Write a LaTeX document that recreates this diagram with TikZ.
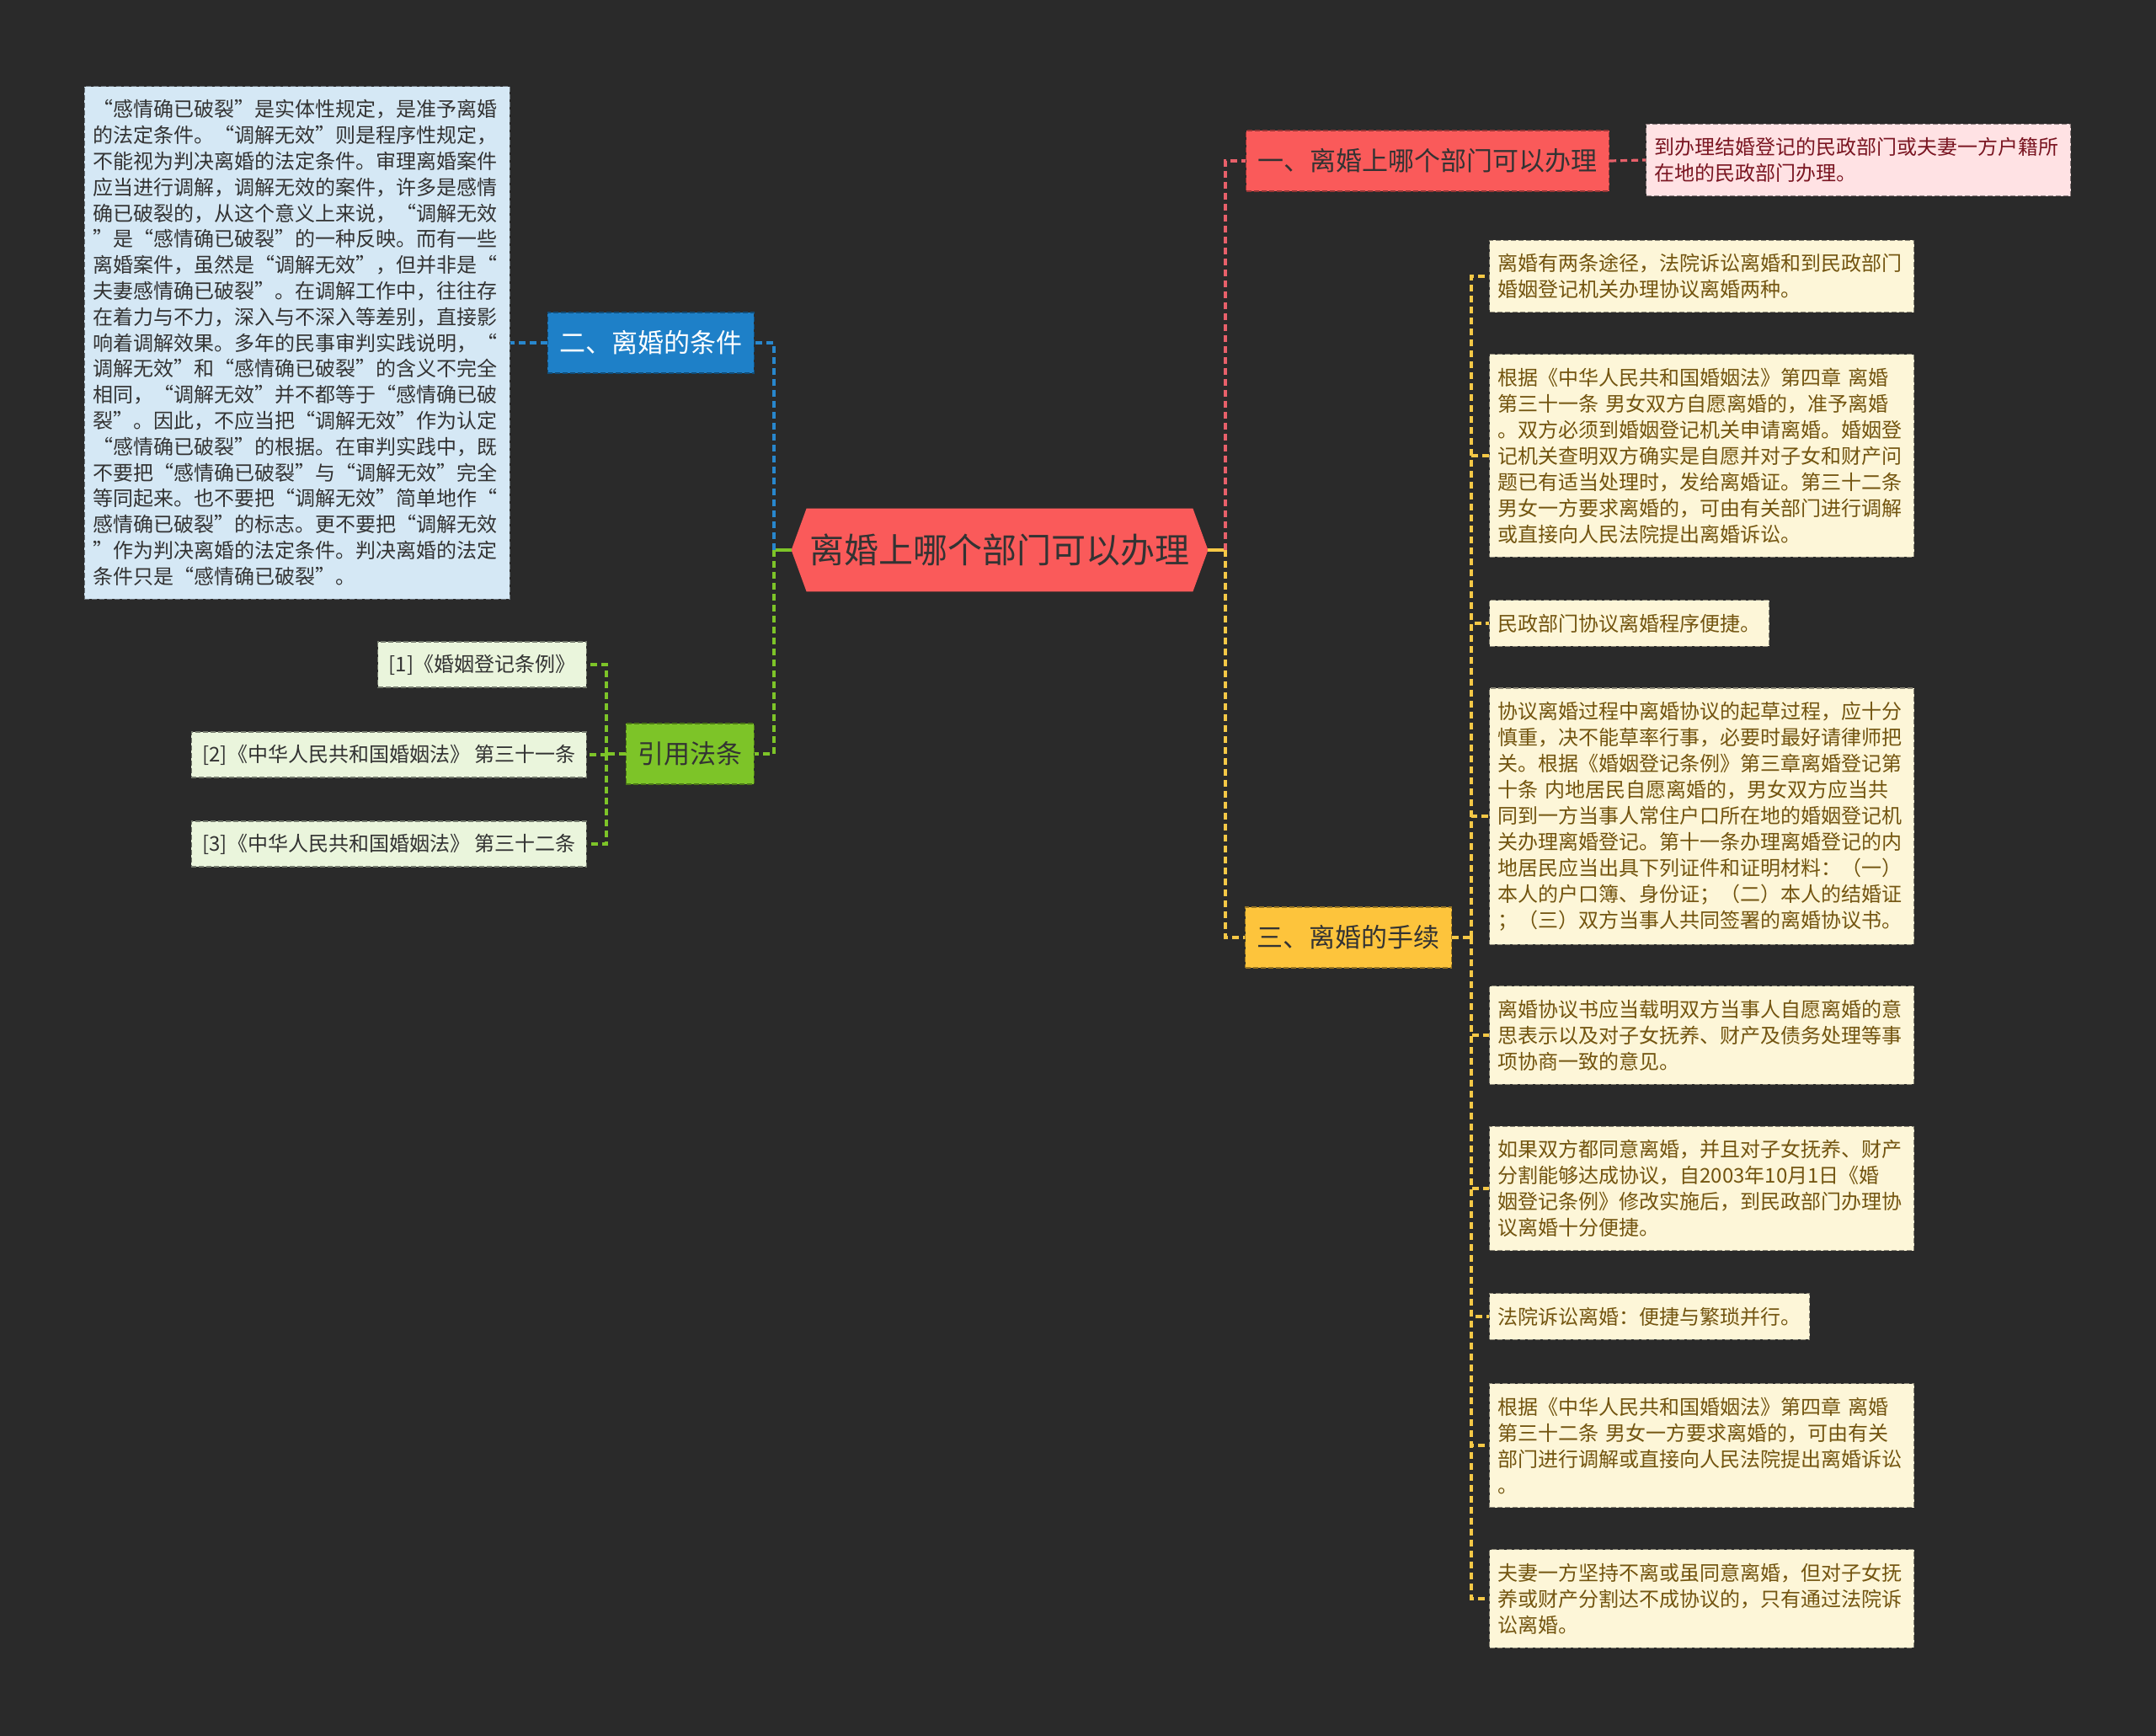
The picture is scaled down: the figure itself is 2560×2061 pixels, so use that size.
\documentclass[tikz,border=0pt]{standalone}
\usepackage{fontspec}
\setmainfont{Noto Sans CJK SC}
\usepackage{tikz}
\usetikzlibrary{backgrounds}
\definecolor{bgdark}{HTML}{2A2A2A}
\definecolor{rootfill}{HTML}{FA5A5A}
\definecolor{redfill}{HTML}{FA5A5A}
\definecolor{pinkfill}{HTML}{FFE2E4}
\definecolor{pinktext}{HTML}{7A1622}
\definecolor{bluefill}{HTML}{1E80C8}
\definecolor{paleblue}{HTML}{D5E8F5}
\definecolor{greenfill}{HTML}{7DC428}
\definecolor{palegreen}{HTML}{EAF5DC}
\definecolor{yellowfill}{HTML}{FDC43C}
\definecolor{cream}{HTML}{FDF6D8}
\definecolor{creamtext}{HTML}{735510}
\definecolor{darktext}{HTML}{333333}
\definecolor{rline}{HTML}{E8606A}
\definecolor{bline}{HTML}{2887CD}
\definecolor{gline}{HTML}{7DC428}
\definecolor{yline}{HTML}{F5C846}
\tikzset{every node/.append style={execute at begin node={\hyphenpenalty=10000\exhyphenpenalty=10000}}}

\begin{document}
\begin{tikzpicture}[x=0.5pt,y=-0.5pt,
  box/.style={dash pattern=on 3pt off 1.5pt,line width=0.6pt},
  branch/.style={box,minimum height=36pt,inner xsep=7pt,inner ysep=0pt,font=\fontsize{15.5pt}{18pt}\selectfont},
  note/.style={box,align=left,text width=242pt,inner xsep=5pt,inner ysep=8pt,fill=cream,draw=cream!55!black,text=creamtext,font=\fontsize{12pt}{15.5pt}\selectfont},
  ref/.style={box,minimum height=27pt,inner xsep=6.5pt,inner ysep=0pt,fill=palegreen,draw=palegreen!50!black,text=darktext,font=\fontsize{12pt}{15.5pt}\selectfont},
  link/.style={line width=1.6pt,dash pattern=on 4pt off 2.5pt},
  stub/.style={line width=1.6pt}]
\useasboundingbox (0,0) rectangle (2560,2061);
\node[minimum width=247pt,minimum height=49pt,inner sep=0pt,text=darktext,font=\fontsize{20.5pt}{24pt}\selectfont] (root) at (1187,653) {离婚上哪个部门可以办理};
\begin{scope}[on background layer]
\fill[bgdark] (0,0) rectangle (2560,2061);
\fill[rootfill] (root.west) -- ([xshift=9pt]root.north west) -- ([xshift=-9pt]root.north east) -- (root.east) -- ([xshift=-9pt]root.south east) -- ([xshift=9pt]root.south west) -- cycle;
\end{scope}
\node[branch,anchor=west,fill=redfill,draw=redfill!60!black,text=darktext] (way) at (1479,191) {一、离婚上哪个部门可以办理};
\node[note,anchor=west,fill=pinkfill,draw=pinkfill!55!black,text=pinktext] (wayN) at (1954,190) {到办理结婚登记的民政部门或夫妻一方户籍所\\在地的民政部门办理。};
\node[branch,anchor=east,fill=bluefill,draw=bluefill!60!black,text=white] (cond) at (896,407) {二、离婚的条件};
\node[note,anchor=east,inner xsep=5.25pt,fill=paleblue,draw=paleblue!50!black,text=darktext,font=\fontsize{12pt}{15.4pt}\selectfont] (condN) at (606,407) {“感情确已破裂”是实体性规定，是准予离婚\\的法定条件。“调解无效”则是程序性规定，\\不能视为判决离婚的法定条件。审理离婚案件\\应当进行调解，调解无效的案件，许多是感情\\确已破裂的，从这个意义上来说，“调解无效\\”是“感情确已破裂”的一种反映。而有一些\\离婚案件，虽然是“调解无效”，但并非是“\\夫妻感情确已破裂”。在调解工作中，往往存\\在着力与不力，深入与不深入等差别，直接影\\响着调解效果。多年的民事审判实践说明，“\\调解无效”和“感情确已破裂”的含义不完全\\相同，“调解无效”并不都等于“感情确已破\\裂”。因此，不应当把“调解无效”作为认定\\“感情确已破裂”的根据。在审判实践中，既\\不要把“感情确已破裂”与“调解无效”完全\\等同起来。也不要把“调解无效”简单地作“\\感情确已破裂”的标志。更不要把“调解无效\\”作为判决离婚的法定条件。判决离婚的法定\\条件只是“感情确已破裂”。};
\node[branch,anchor=east,fill=greenfill,draw=greenfill!60!black,text=darktext] (law) at (896,895) {引用法条};
\node[ref,anchor=east] (law1) at (697,789) {[1]《婚姻登记条例》};
\node[ref,anchor=east] (law2) at (697,896) {[2]《中华人民共和国婚姻法》 第三十一条};
\node[ref,anchor=east] (law3) at (697,1002) {[3]《中华人民共和国婚姻法》 第三十二条};
\node[branch,anchor=west,fill=yellowfill,draw=yellowfill!60!black,text=darktext] (proc) at (1478,1113) {三、离婚的手续};
\node[note,anchor=west] (proc1) at (1768,328) {离婚有两条途径，法院诉讼离婚和到民政部门\\婚姻登记机关办理协议离婚两种。};
\node[note,anchor=west] (proc2) at (1768,541) {根据《中华人民共和国婚姻法》第四章 离婚\\第三十一条 男女双方自愿离婚的，准予离婚\\。双方必须到婚姻登记机关申请离婚。婚姻登\\记机关查明双方确实是自愿并对子女和财产问\\题已有适当处理时，发给离婚证。第三十二条\\男女一方要求离婚的，可由有关部门进行调解\\或直接向人民法院提出离婚诉讼。};
\node[note,anchor=west,text width=] (proc3) at (1768,740) {民政部门协议离婚程序便捷。};
\node[note,anchor=west] (proc4) at (1768,969) {协议离婚过程中离婚协议的起草过程，应十分\\慎重，决不能草率行事，必要时最好请律师把\\关。根据《婚姻登记条例》第三章离婚登记第\\十条 内地居民自愿离婚的，男女双方应当共\\同到一方当事人常住户口所在地的婚姻登记机\\关办理离婚登记。第十一条办理离婚登记的内\\地居民应当出具下列证件和证明材料：（一）\\本人的户口簿、身份证；（二）本人的结婚证\\；（三）双方当事人共同签署的离婚协议书。};
\node[note,anchor=west] (proc5) at (1768,1229) {离婚协议书应当载明双方当事人自愿离婚的意\\思表示以及对子女抚养、财产及债务处理等事\\项协商一致的意见。};
\node[note,anchor=west] (proc6) at (1768,1411) {如果双方都同意离婚，并且对子女抚养、财产\\分割能够达成协议，自2003年10月1日《婚\\姻登记条例》修改实施后，到民政部门办理协\\议离婚十分便捷。};
\node[note,anchor=west,text width=] (proc7) at (1768,1563) {法院诉讼离婚：便捷与繁琐并行。};
\node[note,anchor=west] (proc8) at (1768,1716) {根据《中华人民共和国婚姻法》第四章 离婚\\第三十二条 男女一方要求离婚的，可由有关\\部门进行调解或直接向人民法院提出离婚诉讼\\。};
\node[note,anchor=west] (proc9) at (1768,1898) {夫妻一方坚持不离或虽同意离婚，但对子女抚\\养或财产分割达不成协议的，只有通过法院诉\\讼离婚。};
\coordinate (rootL) at (919,653);
\coordinate (rootR) at (1455,653);
\coordinate (lawJ) at (720,895);
\coordinate (procJ) at (1747,1113);
\draw[stub,gline] (root.west) -- (rootL);
\draw[link,bline] (rootL) |- (cond.east);
\draw[link,gline] (rootL) |- (law.east);
\draw[stub,yline] (root.east) -- (rootR);
\draw[link,rline] (rootR) |- (way.west);
\draw[link,yline] (rootR) |- (proc.west);
\draw[link,rline] (way.east) -- (wayN.west);
\draw[link,bline] (cond.west) -- (condN.east);
\draw[link,gline] (law.west) -- (lawJ);
\foreach \i in {1,2,3} \draw[link,gline] (lawJ) |- (law\i.east);
\draw[link,yline] (proc.east) -- (procJ);
\foreach \i in {1,...,9} \draw[link,yline] (procJ) |- (proc\i.west);
\end{tikzpicture}
\end{document}
